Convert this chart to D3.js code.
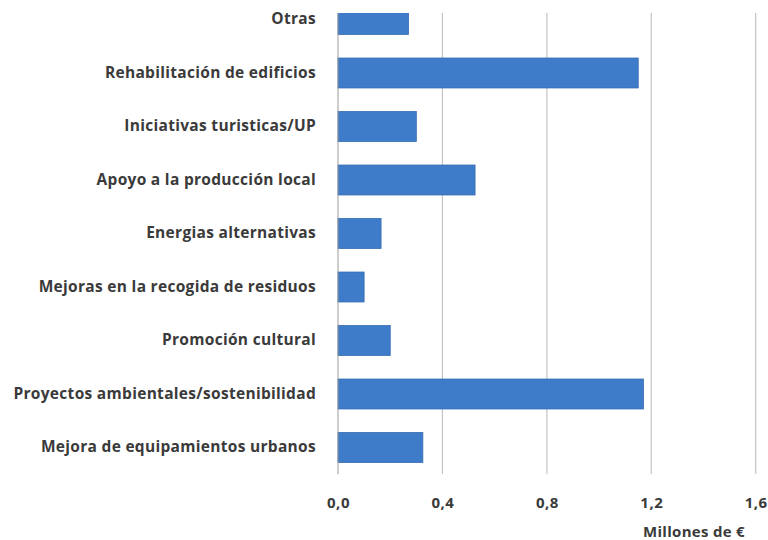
<!DOCTYPE html>
<html><head><meta charset="utf-8">
<script src="https://cdn.jsdelivr.net/npm/d3@7"></script>
<style>
html,body{margin:0;padding:0;background:#fff;}
svg{display:block;}
text{font-family:"Open Sans",sans-serif;font-weight:700;fill:#3a3a3a;}
</style></head>
<body>
<svg id="chart" width="768" height="540"></svg>
<script>
const categories = [
  "Otras",
  "Rehabilitación de edificios",
  "Iniciativas turisticas/UP",
  "Apoyo a la producción local",
  "Energias alternativas",
  "Mejoras en la recogida de residuos",
  "Promoción cultural",
  "Proyectos ambientales/sostenibilidad",
  "Mejora de equipamientos urbanos"
];
const values = [0.27, 1.15, 0.30, 0.525, 0.165, 0.10, 0.20, 1.17, 0.325];
const ticks = [0, 0.4, 0.8, 1.2, 1.6];
const tickLabels = ["0,0", "0,4", "0,8", "1,2", "1,6"];
const axisTitle = "Millones de €";

const svg = d3.select("#chart");
const x0 = 338, x1 = 755.7;
const step = 53.5;
const yTop = 19.5 - step/2, yBot = yTop + step*categories.length;
const clipTop = 13;

const x = d3.scaleLinear().domain([0, 1.6]).range([x0, x1]);
const y = d3.scaleBand().domain(categories).range([yTop, yBot]).paddingInner(0.44).paddingOuter(0.22);

svg.append("defs").append("clipPath").attr("id","plotclip")
  .append("rect").attr("x", 0).attr("y", clipTop).attr("width", 768).attr("height", yBot - clipTop);

const plot = svg.append("g").attr("clip-path","url(#plotclip)");

// gridlines
plot.selectAll("line.grid").data(ticks.slice(1)).join("line")
  .attr("class","grid")
  .attr("x1", d => x(d)).attr("x2", d => x(d))
  .attr("y1", yTop).attr("y2", yBot)
  .attr("stroke", "#c4c4c4").attr("stroke-width", 1.2);

// bars
plot.selectAll("rect.bar").data(categories).join("rect")
  .attr("class","bar")
  .attr("x", x(0))
  .attr("y", d => y(d))
  .attr("width", (d,i) => x(values[i]) - x(0))
  .attr("height", y.bandwidth())
  .attr("fill", "#3e7bc8")
  .attr("stroke", "#356db5").attr("stroke-width", 0.8);

// vertical axis line
plot.append("line")
  .attr("x1", x0).attr("x2", x0).attr("y1", yTop).attr("y2", yBot)
  .attr("stroke", "#9a9a9a").attr("stroke-width", 1);

// category labels
const yAxis = d3.axisLeft(y).tickSize(0).tickPadding(22);
const gy = svg.append("g").attr("transform", `translate(${x0},0)`).call(yAxis);
gy.select(".domain").remove();
gy.selectAll("text").attr("font-size", 15.5).attr("fill", "#3a3a3a")
  .style("font-family","'Open Sans',sans-serif").style("font-weight","700")
  .style("letter-spacing","0.3px");

// x tick labels
const xAxis = d3.axisBottom(x).tickValues(ticks).tickSize(0).tickPadding(0)
  .tickFormat((d,i) => tickLabels[i]);
const gx = svg.append("g").attr("transform", `translate(0,0)`).call(xAxis);
gx.select(".domain").remove();
gx.selectAll("text").attr("font-size", 15).attr("y", 508).attr("dy", 0)
  .style("font-family","'Open Sans',sans-serif").style("font-weight","700")
  .style("letter-spacing","0.5px").attr("fill","#3a3a3a");

// axis title
svg.append("text").attr("x", 694).attr("y", 537)
  .attr("text-anchor","middle").attr("font-size", 15)
  .style("letter-spacing","0.3px")
  .text(axisTitle);
</script>
</body></html>
